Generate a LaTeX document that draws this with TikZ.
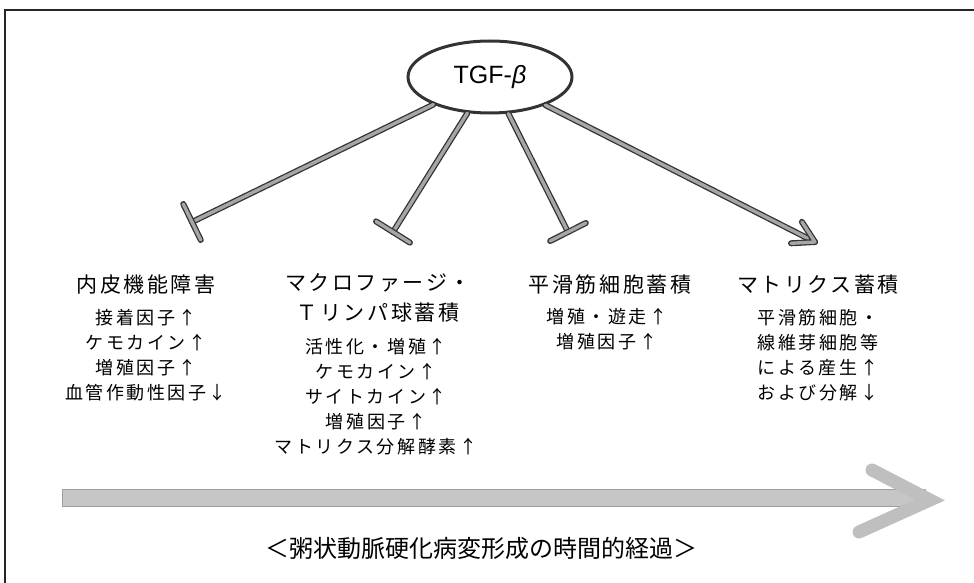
\documentclass[tikz,border=0pt]{standalone}
\usepackage{fontspec}
\setmainfont{Liberation Sans}
\newfontfamily\jp{Noto Sans CJK JP}
\newfontfamily\jph[LetterSpace=12]{Noto Sans CJK JP}
\newfontfamily\jps[LetterSpace=14]{Noto Sans CJK JP}
\usetikzlibrary{calc,shapes.geometric}
\tikzset{
  conn/.style={draw=gray!70, line width=3.4pt, line cap=round, line join=round,
    preaction={draw=black!80, line width=6pt, line cap=round, line join=round}},
  head/.style={inner sep=0pt, font=\jph\fontsize{21}{30}\selectfont, align=center, anchor=north},
  body/.style={inner sep=0pt, font=\jps\fontsize{18}{25}\selectfont, align=center, anchor=north},
  frame/.style={draw=black!85, line width=1.3pt},
  band/.style={fill=gray!45, draw=gray!75},
  chev/.style={draw=gray!50, line width=13pt, line cap=round, line join=miter}
}
\begin{document}
\begin{tikzpicture}[x=1pt,y=-1pt]
\useasboundingbox (0,0) rectangle (974,583);
% frame
\coordinate (f0) at (5,583);
\coordinate (f1) at (5,10);
\coordinate (f2) at (974,10);
\draw[frame] (f0) -- (f1) -- (f2);

% TGF-beta
\node[ellipse, draw=black!80, line width=3pt, minimum width=164, minimum height=72, inner sep=0pt,
  font=\fontsize{25}{28}\selectfont] (tgf) at (490,77) {TGF-{\itshape β}};

% end points
\coordinate (e1) at (192,222);
\coordinate (e2) at (393,232);
\coordinate (e3) at (568,232);
\coordinate (e4) at (815,242);

\draw[conn] (tgf) -- (e1);
\draw[conn] ($(e1)!20pt!90:(tgf)$) -- ($(e1)!20pt!-90:(tgf)$);
\draw[conn] (tgf) -- (e2);
\draw[conn] ($(e2)!20pt!90:(tgf)$) -- ($(e2)!20pt!-90:(tgf)$);
\draw[conn] (tgf) -- (e3);
\draw[conn] ($(e3)!20pt!90:(tgf)$) -- ($(e3)!20pt!-90:(tgf)$);
\draw[conn] (tgf) -- (e4);
\draw[conn] ($(e4)!24pt!30:(tgf)$) -- (e4) -- ($(e4)!24pt!-30:(tgf)$);

% column 1
\node[head] (h1) at (146,275) {内皮機能障害};
\node[body] (b1) at (146,309) {接着因子↑\\ケモカイン↑\\増殖因子↑\\血管作動性因子↓};
% column 2
\node[head] (h2) at (378,273) {マクロファージ・\\Ｔリンパ球蓄積};
\node[body] (b2) at (376,338) {活性化・増殖↑\\ケモカイン↑\\サイトカイン↑\\増殖因子↑\\マトリクス分解酵素↑};
% column 3
\node[head] (h3) at (610,275) {平滑筋細胞蓄積};
\node[body] (b3) at (607,308) {増殖・遊走↑\\増殖因子↑};
% column 4
\node[head] (h4) at (818,275) {マトリクス蓄積};
\node[body] (b4) at (818,309) {平滑筋細胞・\\線維芽細胞等\\による産生↑\\および分解↓};

% time arrow
\coordinate (tA) at (62,489);
\coordinate (tB) at (925,506);
\coordinate (tip) at (930,500);
\coordinate (up) at (872,470);
\coordinate (lo) at (859,532);
\draw[band] (tA) rectangle (tB);
\draw[chev] (up) -- (tip) -- (lo);
\node[inner sep=0pt, font=\jp\fontsize{24}{28}\selectfont] (cap) at (481,548) {＜粥状動脈硬化病変形成の時間的経過＞};
\end{tikzpicture}
\end{document}
